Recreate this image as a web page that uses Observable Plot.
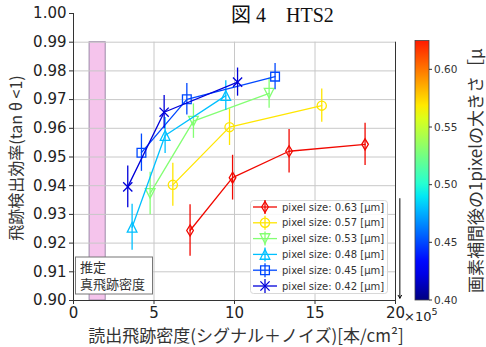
<!DOCTYPE html>
<html><head><meta charset="utf-8">
<script src="https://cdn.jsdelivr.net/npm/d3@7"></script>
<script src="https://cdn.jsdelivr.net/npm/@observablehq/plot@0.6"></script>
<style>body{margin:0;background:#fff}</style>
</head><body><div id="chart"></div>
<script>
// ---- data (density in units of 10^5 tracks/cm^2) ----
const pixelSizes = [0.63, 0.57, 0.53, 0.48, 0.45, 0.42];
const density063 = [7.24, 9.88, 13.39, 18.11];
const eff063     = [0.9244, 0.9428, 0.9520, 0.9544];
const err063     = [0.0090, 0.0078, 0.0076, 0.0074];
const density057 = [6.17, 9.69, 15.42];
const eff057     = [0.9403, 0.9604, 0.9679];
const err057     = [0.0075, 0.0064, 0.0058];
const density053 = [4.76, 7.45, 12.15];
const eff053     = [0.9373, 0.9625, 0.9722];
const err053     = [0.0074, 0.0060, 0.0052];
const density048 = [3.64, 5.69, 9.46];
const eff048     = [0.9255, 0.9575, 0.9714];
const err048     = [0.0080, 0.0063, 0.0052];
const density045 = [4.22, 7.04, 12.52];
const eff045     = [0.9515, 0.9701, 0.9780];
const err045     = [0.0065, 0.0055, 0.0046];
const density042 = [3.37, 5.63, 10.19];
const eff042     = [0.9396, 0.9656, 0.9761];
const err042     = [0.0073, 0.0058, 0.0049];
const trueDensityBand = [1, 2];
const xTicks = [0, 5, 10, 15, 20];
const yTicks = [0.90, 0.91, 0.92, 0.93, 0.94, 0.95, 0.96, 0.97, 0.98, 0.99, 1.00];
const cbarTicks = [0.40, 0.45, 0.50, 0.55, 0.60];
const cbarRange = [0.40, 0.625];
const jetDomain = [0.40, 0.655];

const seriesX = [density063, density057, density053, density048, density045, density042];
const seriesY = [eff063, eff057, eff053, eff048, eff045, eff042];
const seriesE = [err063, err057, err053, err048, err045, err042];

// ---- jet colormap ----
function seg(t, pts){ for(let i=1;i<pts.length;i++){ if(t<=pts[i][0]){ const [x0,y0]=pts[i-1],[x1,y1]=pts[i]; return y0+(y1-y0)*(t-x0)/(x1-x0);} } return pts[pts.length-1][1]; }
function jet(t){
  t=Math.max(0,Math.min(1,t));
  const r=seg(t,[[0,0],[0.35,0],[0.66,1],[0.89,1],[1,0.5]]);
  const g=seg(t,[[0,0],[0.125,0],[0.375,1],[0.64,1],[0.91,0],[1,0]]);
  const b=seg(t,[[0,0.5],[0.11,1],[0.34,1],[0.65,0],[1,0]]);
  return d3.rgb(r*255,g*255,b*255).formatHex();
}

// ---- marker shapes ----
const rad = s => Math.sqrt(s/Math.PI);
const thinDiamond = {draw(c,s){const r=rad(s)*1.2;c.moveTo(0,-r);c.lineTo(r*0.6,0);c.lineTo(0,r);c.lineTo(-r*0.6,0);c.closePath();}};
const circle = {draw(c,s){const r=rad(s);c.moveTo(r,0);c.arc(0,0,r,0,2*Math.PI);c.closePath();}};
const triDown = {draw(c,s){const r=rad(s)*1.05;c.moveTo(0,r);c.lineTo(r,-r);c.lineTo(-r,-r);c.closePath();}};
const triUp = {draw(c,s){const r=rad(s)*1.05;c.moveTo(0,-r);c.lineTo(r,r);c.lineTo(-r,r);c.closePath();}};
const square = {draw(c,s){const r=rad(s)*0.95;c.moveTo(-r,-r);c.lineTo(r,-r);c.lineTo(r,r);c.lineTo(-r,r);c.closePath();}};
const cross = {draw(c,s){const r=rad(s)*1.0;c.moveTo(-r,-r);c.lineTo(r,r);c.moveTo(r,-r);c.lineTo(-r,r);}};
const symbolsBySeries = [thinDiamond, circle, triDown, triUp, square, cross];

const tables = pixelSizes.map((p,i)=>seriesX[i].map((x,j)=>({size:p, x, y:seriesY[i][j], err:seriesE[i][j]})));

const marks = [
  Plot.rect([trueDensityBand], {x1: d=>d[0], x2: d=>d[1], y1: 0.90, y2: 0.99, fill: "#f5c4ec", stroke: "#9c8aa8", strokeWidth: 1}),
  Plot.gridX([5,10,15], {y1: 0.90, y2: 0.99, stroke: "#c8c8c8", strokeOpacity: 1, strokeWidth: 1}),
  Plot.gridY(yTicks.slice(1,10), {x1: 0, x2: 20, stroke: "#c8c8c8", strokeOpacity: 1, strokeWidth: 1}),
  Plot.ruleX([0], {y1: 0.90, y2: 1.00, stroke: "#333"}),
  Plot.ruleX([20], {y1: 0.90, y2: 0.99, stroke: "#333"}),
  Plot.ruleY([0.90], {x1: 0, x2: 20, stroke: "#333"}),
  Plot.axisX({ticks: xTicks, tickFormat: d3.format("d"), tickSize: 4, tickPadding: 3, fontSize: 15, label: null, stroke: "#333"}),
  Plot.axisY({ticks: yTicks, tickFormat: d3.format(".2f"), tickSize: 4, tickPadding: 3, fontSize: 15, label: null, stroke: "#333"}),
];
tables.forEach((t,i)=>{
  marks.push(Plot.line(t, {x: "x", y: "y", stroke: "size", strokeWidth: 1.3}));
  marks.push(Plot.ruleX(t, {x: "x", y1: d=>d.y-d.err, y2: d=>d.y+d.err, stroke: "size", strokeWidth: 1.3}));
  marks.push(Plot.dot(t, {x: "x", y: "y", symbol: symbolsBySeries[i], r: 4.6, stroke: "size", fill: "none", strokeWidth: 1.3}));
});
marks.push(Plot.arrow([{x: 20.27, y1: 0.9355, y2: 0.9008}], {x1: "x", x2: "x", y1: "y1", y2: "y2", stroke: "black", strokeWidth: 1, headLength: 5, clip: false}));

const chart = Plot.plot({
  width: 486, height: 347,
  marginLeft: 73, marginRight: 91, marginTop: 13, marginBottom: 47,
  x: {domain: [0, 20], axis: null},
  y: {domain: [0.90, 1.00], axis: null},
  color: {type: "linear", domain: jetDomain, interpolate: jet},
  style: {fontFamily: "DejaVu Sans", background: "white", color: "#222", overflow: "visible"},
  marks
});
document.getElementById("chart").appendChild(chart);

// ---- extras ----
const svg = d3.select(chart);
const color = v => chart.scale("color").apply(v);
const cjk = "'Noto Sans CJK JP', 'DejaVu Sans', sans-serif";
const T = (x, y) => svg.append("text").attr("x", x).attr("y", y).attr("text-anchor", "start");

// title
T(231, 22).attr("font-family", "'Liberation Serif', 'Noto Sans CJK JP', serif")
  .attr("font-size", 20).attr("fill", "#111").text("図 4\u3000HTS2");

// y label
svg.append("text").attr("transform", "translate(22,158) rotate(-90)").attr("text-anchor", "middle")
  .attr("font-family", cjk).attr("font-size", 16).attr("fill", "#333").text("飛跡検出効率(tan θ <1)");
// x label
svg.append("text").attr("x", 246).attr("y", 342).attr("text-anchor", "middle")
  .attr("font-family", cjk).attr("font-size", 17).attr("fill", "#333").text("読出飛跡密度(シグナル＋ノイズ)[本/cm²]");
// x offset
const off = T(404, 321).attr("font-family", "DejaVu Sans").attr("font-size", 13).attr("fill", "#222");
off.append("tspan").text("×10");
off.append("tspan").attr("font-size", 9.5).attr("dy", -6).text("5");

// annotation box
const ann = svg.append("g").attr("text-anchor", "start");
ann.append("rect").attr("x", 75.5).attr("y", 257).attr("width", 77).attr("height", 37).attr("fill", "white").attr("stroke", "#777").attr("stroke-width", 1);
ann.append("text").attr("x", 80).attr("y", 272).attr("font-family", cjk).attr("font-size", 13).attr("fill", "#333").text("推定");
ann.append("text").attr("x", 80).attr("y", 289).attr("font-family", cjk).attr("font-size", 13).attr("fill", "#333").text("真飛跡密度");

// legend
const lg = svg.append("g").attr("text-anchor", "start");
lg.append("rect").attr("x", 250.5).attr("y", 200.5).attr("width", 137).attr("height", 93).attr("rx", 3)
  .attr("fill", "white").attr("fill-opacity", 0.85).attr("stroke", "#d8d8d8");
pixelSizes.forEach((p,i)=>{
  const y = 207 + i*15.8, c = color(p);
  lg.append("line").attr("x1", 253).attr("x2", 277).attr("y1", y).attr("y2", y).attr("stroke", c).attr("stroke-width", 1.3);
  lg.append("line").attr("x1", 265).attr("x2", 265).attr("y1", y-7).attr("y2", y+7).attr("stroke", c).attr("stroke-width", 1.3);
  lg.append("path").attr("transform", `translate(265,${y})`).attr("d", d3.symbol(symbolsBySeries[i], Math.PI*4.6*4.6)())
    .attr("fill", "none").attr("stroke", c).attr("stroke-width", 1.3);
  lg.append("text").attr("x", 282).attr("y", y).attr("dy", "0.35em").attr("font-family", "DejaVu Sans").attr("font-size", 10)
    .attr("fill", "#333").text(`pixel size: ${p.toFixed(2)} [μm]`);
});

// colorbar
const cb = {x: 415, w: 14, top: 40.5, bottom: 300};
const cy = d3.scaleLinear().domain(cbarRange).range([cb.bottom, cb.top]);
const defs = svg.append("defs");
const grad = defs.append("linearGradient").attr("id", "jetgrad").attr("x1", 0).attr("x2", 0).attr("y1", 1).attr("y2", 0);
d3.range(0, 1.0001, 0.05).forEach(f=>{
  const v = cbarRange[0] + f*(cbarRange[1]-cbarRange[0]);
  grad.append("stop").attr("offset", f).attr("stop-color", color(v));
});
svg.append("rect").attr("x", cb.x).attr("y", cb.top).attr("width", cb.w).attr("height", cb.bottom-cb.top)
  .attr("fill", "url(#jetgrad)").attr("stroke", "#444").attr("stroke-width", 0.8);
cbarTicks.forEach(v=>{
  svg.append("line").attr("x1", cb.x+cb.w).attr("x2", cb.x+cb.w+3).attr("y1", cy(v)).attr("y2", cy(v)).attr("stroke", "#333");
  T(cb.x+cb.w+5, cy(v)).attr("dy", "0.35em").attr("font-family", "DejaVu Sans")
    .attr("font-size", 10.5).attr("fill", "#333").text(v.toFixed(2));
});
svg.append("text").attr("transform", "translate(482,293) rotate(-90)").attr("text-anchor", "start")
  .attr("font-family", cjk).attr("font-size", 17).attr("fill", "#333").text("画素補間後の1pixelの大きさ［μ");
</script></body></html>
